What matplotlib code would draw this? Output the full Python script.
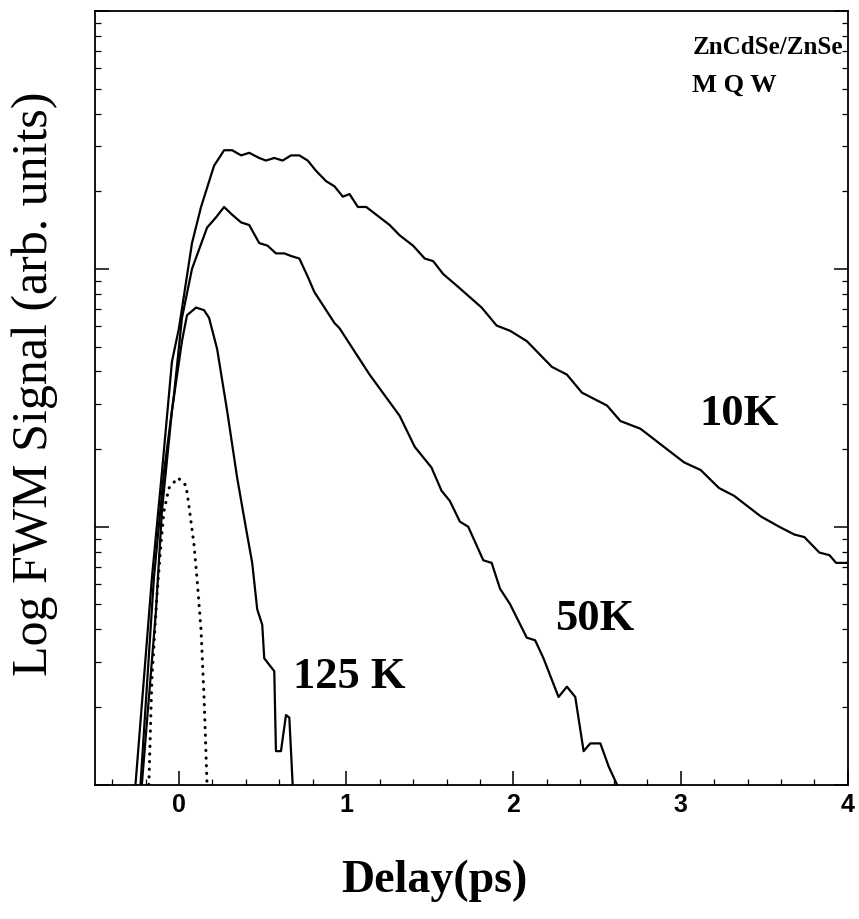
import numpy as np
import matplotlib
matplotlib.use("Agg")
from matplotlib import pyplot as plt
from matplotlib.ticker import MultipleLocator, LogLocator, NullFormatter

# delay (ps) and log10 of FWM signal (arb. units)
t_10k = [-0.26, -0.162, -0.102, -0.042, 0.0, 0.078, 0.132, 0.21, 0.27, 0.318,
         0.372, 0.42, 0.48, 0.52, 0.57, 0.62, 0.67, 0.72, 0.77, 0.82,
         0.88, 0.93, 0.98, 1.02, 1.07, 1.12, 1.18, 1.26, 1.32, 1.40,
         1.47, 1.52, 1.58, 1.67, 1.81, 1.90, 1.98, 2.08, 2.23, 2.32,
         2.41, 2.56, 2.64, 2.76, 2.84, 3.02, 3.12, 3.23, 3.32, 3.48,
         3.59, 3.68, 3.74, 3.83, 3.89, 3.93, 4.0]
log_10k = [0.0, 0.80, 1.21, 1.64, 1.77, 2.10, 2.24, 2.40, 2.46, 2.46,
           2.44, 2.45, 2.43, 2.42, 2.43, 2.42, 2.44, 2.44, 2.42, 2.38,
           2.34, 2.32, 2.28, 2.29, 2.24, 2.24, 2.21, 2.17, 2.13, 2.09,
           2.04, 2.03, 1.98, 1.93, 1.85, 1.78, 1.76, 1.72, 1.62, 1.59,
           1.52, 1.47, 1.41, 1.38, 1.34, 1.25, 1.22, 1.15, 1.12, 1.04,
           1.00, 0.97, 0.96, 0.90, 0.89, 0.86, 0.86]

t_50k = [-0.23, -0.150, -0.090, -0.030, 0.018, 0.078, 0.168, 0.222, 0.27, 0.318,
         0.372, 0.42, 0.48, 0.53, 0.58, 0.63, 0.67, 0.72, 0.77, 0.81,
         0.88, 0.93, 0.96, 1.14, 1.32, 1.41, 1.51, 1.57, 1.62, 1.68,
         1.73, 1.82, 1.87, 1.92, 1.98, 2.08, 2.13, 2.18, 2.27, 2.32,
         2.37, 2.42, 2.46, 2.52, 2.57, 2.62]
log_50k = [0.0, 0.80, 1.21, 1.51, 1.81, 2.00, 2.16, 2.20, 2.24, 2.21,
           2.18, 2.17, 2.10, 2.09, 2.06, 2.06, 2.05, 2.04, 1.97, 1.91,
           1.84, 1.79, 1.77, 1.59, 1.43, 1.31, 1.23, 1.14, 1.10, 1.02,
           1.00, 0.87, 0.86, 0.76, 0.70, 0.57, 0.56, 0.49, 0.34, 0.38,
           0.34, 0.13, 0.16, 0.16, 0.07, 0.0]

t_125k = [-0.222, -0.138, -0.102, -0.042, 0.018, 0.048, 0.102, 0.15, 0.18, 0.228,
          0.288, 0.348, 0.402, 0.438, 0.468, 0.498, 0.51, 0.57, 0.58, 0.61,
          0.64, 0.66, 0.68]
log_125k = [0.0, 0.67, 1.06, 1.45, 1.72, 1.82, 1.85, 1.84, 1.81, 1.69,
            1.45, 1.19, 0.99, 0.86, 0.68, 0.62, 0.49, 0.44, 0.13, 0.13,
            0.27, 0.26, 0.0]

# laser autocorrelation (dotted)
t_pulse = [-0.18, -0.162, -0.132, -0.108, -0.09, -0.06, -0.006, 0.042, 0.06, 0.09,
           0.108, 0.132, 0.15, 0.168]
log_pulse = [0.0, 0.41, 0.73, 0.93, 1.06, 1.15, 1.19, 1.16, 1.08, 0.93,
             0.80, 0.60, 0.34, 0.0]

x_ticks = [0, 1, 2, 3, 4]


def main():
    plt.rcParams['font.family'] = ['Liberation Serif', 'DejaVu Serif']

    fig = plt.figure(figsize=(8.59, 9.2), dpi=100)
    ax = fig.add_axes([0.111, 0.146, 0.876, 0.841])

    for t, lg in [(t_10k, log_10k), (t_50k, log_50k), (t_125k, log_125k)]:
        ax.plot(t, np.power(10.0, lg), color='black', lw=1.6)
    ax.plot(t_pulse, np.power(10.0, log_pulse), color='black', lw=2.2,
            linestyle=(0, (0.1, 2.4)), dash_capstyle='round')

    ax.set_yscale('log')
    ax.set_xlim(-0.5, 4.0)
    ax.set_ylim(1, 1000)

    ax.set_xticks(x_ticks)
    ax.xaxis.set_minor_locator(MultipleLocator(0.2))
    ax.yaxis.set_major_locator(LogLocator(base=10))
    ax.yaxis.set_minor_locator(LogLocator(base=10, subs=np.arange(2, 10)))
    ax.yaxis.set_major_formatter(NullFormatter())
    ax.yaxis.set_minor_formatter(NullFormatter())

    ax.tick_params(axis='both', which='both', direction='in', color='black')
    ax.tick_params(axis='y', which='both', left=True, right=True)
    ax.tick_params(axis='x', which='both', top=False)
    ax.tick_params(which='major', length=10, width=1.1)
    ax.tick_params(which='minor', length=4, width=0.9)
    ax.tick_params(axis='x', which='major', pad=5)
    for lab in ax.get_xticklabels():
        lab.set_family(['Liberation Sans', 'DejaVu Sans'])
        lab.set_fontweight('bold')
        lab.set_fontsize(18)

    for sp in ax.spines.values():
        sp.set_linewidth(1.3)

    ax.set_xlabel('Delay(ps)', fontsize=33, fontweight='bold')
    ax.xaxis.set_label_coords(0.45, -0.095)
    ax.set_ylabel('Log FWM Signal (arb. units)', fontsize=36)
    ax.yaxis.set_label_coords(-0.05, 0.52)

    ax.text(3.07, 690, 'ZnCdSe/ZnSe', fontsize=18, fontweight='bold')
    ax.text(3.07, 490, 'M Q W', fontsize=19, fontweight='bold')
    ax.text(3.11, 25, '10K', fontsize=32, fontweight='bold')
    ax.text(2.25, 4.0, '50K', fontsize=32, fontweight='bold')
    ax.text(0.68, 2.4, '125 K', fontsize=32, fontweight='bold')

    fig.savefig('out.png', dpi=100)


if __name__ == '__main__':
    main()
